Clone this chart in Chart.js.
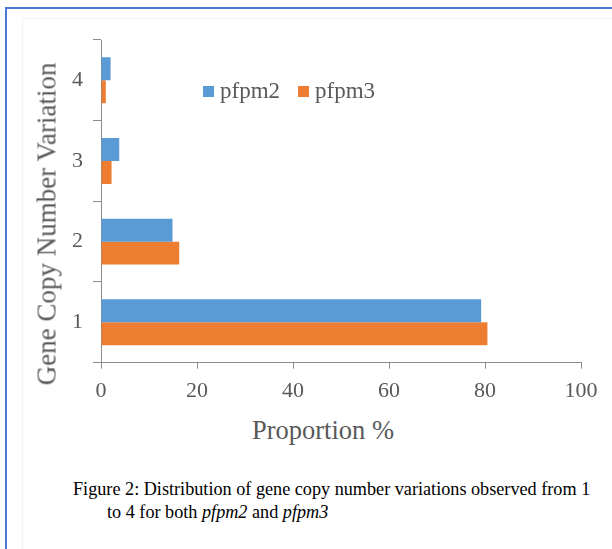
<!DOCTYPE html>
<html>
<head>
<meta charset="utf-8">
<script src="https://cdn.jsdelivr.net/npm/chart.js@4.4.0/dist/chart.umd.min.js"></script>
<style>
  body { margin: 0; background: #fff; width: 612px; height: 549px; overflow: hidden; position: relative; }
  #frame { position: absolute; left: 5px; top: 7px; width: 700px; height: 600px;
    border-left: 2px solid #4a78d2; border-top: 2px solid #4a78d2; }
  #inner { position: absolute; left: 22px; top: 18px; width: 700px; height: 600px;
    border-left: 1px solid #f3f3f3; border-top: 1px solid #f3f3f3; }
  #wrap { position: absolute; left: 0; top: 0; width: 612px; height: 413px; }
  .serif { font-family: "Liberation Serif", serif; color: #595959; white-space: nowrap; }
  #legend { position: absolute; left: 203px; top: 78px; font-size: 23px; }
  #legend span.box { display: inline-block; width: 11px; height: 11px; margin-right: 6px; vertical-align: 1px; }
  #legend span.item { margin-right: 18px; }
  #x_title { position: absolute; left: 323px; top: 430px; font-size: 26.5px;
    transform: translate(-50%, -50%); }
  #y_title { position: absolute; left: 47px; top: 224px; font-size: 27px;
    transform: translate(-50%, -50%) rotate(-90deg); }
  #caption { position: absolute; left: 73px; top: 478px; font-family: "Liberation Serif", serif;
    font-size: 18.2px; color: #000; line-height: 23px; white-space: nowrap; }
  #caption .l2 { padding-left: 34px; }
</style>
</head>
<body>
<div id="frame"></div>
<div id="inner"></div>
<div id="wrap"><canvas id="gene_chart"></canvas></div>
<div id="legend" class="serif"></div>
<div id="x_title" class="serif">Proportion %</div>
<div id="y_title" class="serif">Gene Copy Number Variation</div>
<div id="caption">Figure 2: Distribution of gene copy number variations observed from 1<br><span class="l2">to 4 for both <i>pfpm2</i> and <i>pfpm3</i></span></div>
<script>
// categories top to bottom, as in the picture
const copy_numbers = ["4", "3", "2", "1"];
const pfpm2_values = [2.0, 3.8, 14.9, 79.2];
const pfpm3_values = [1.0, 2.2, 16.3, 80.5];
const x_ticks = [0, 20, 40, 60, 80, 100];

const series_names = ["pfpm2", "pfpm3"];
const series_colors = ["#5b9bd5", "#ed7d31"];

const gene_ctx = document.getElementById("gene_chart");
const axis_grey = "#8c8c8c";
const text_grey = "#595959";
const serif = "'Liberation Serif', 'Times New Roman', serif";

const gene_data = {
  labels: copy_numbers,
  datasets: [
    {
      label: series_names[0],
      data: pfpm2_values,
      backgroundColor: series_colors[0],
    },
    {
      label: series_names[1],
      data: pfpm3_values,
      backgroundColor: series_colors[1],
    },
  ],
};

const gene_chart = new Chart(gene_ctx, {
  type: "bar",
  data: gene_data,
  options: {
    indexAxis: "y",
    responsive: true,
    maintainAspectRatio: false,
    animation: false,
    barPercentage: 1.0,
    categoryPercentage: 0.57,
    layout: {
      padding: { left: 62, top: 40, right: 31, bottom: 0 },
    },
    plugins: {
      legend: { display: false },
      tooltip: { enabled: false },
    },
    scales: {
      x: {
        type: "linear",
        min: x_ticks[0],
        max: x_ticks[x_ticks.length - 1],
        afterBuildTicks: (axis) => {
          axis.ticks = x_ticks.map((v) => ({ value: v }));
        },
        border: { color: axis_grey, width: 1 },
        grid: {
          drawOnChartArea: false,
          color: axis_grey,
          tickLength: 6,
        },
        ticks: {
          color: text_grey,
          font: { family: serif, size: 22 },
          padding: 9,
        },
      },
      y: {
        border: { color: axis_grey, width: 1 },
        grid: {
          drawOnChartArea: false,
          color: axis_grey,
          tickLength: 8,
        },
        ticks: {
          color: text_grey,
          font: { family: serif, size: 22 },
          padding: 10,
        },
      },
    },
  },
});

// legend drawn as html text inside the plot
const legend_el = document.getElementById("legend");
series_names.forEach((name, i) => {
  const item = document.createElement("span");
  item.className = "item";
  item.innerHTML = '<span class="box" style="background:' + series_colors[i] + '"></span>' + name;
  legend_el.appendChild(item);
});
</script>
</body>
</html>
